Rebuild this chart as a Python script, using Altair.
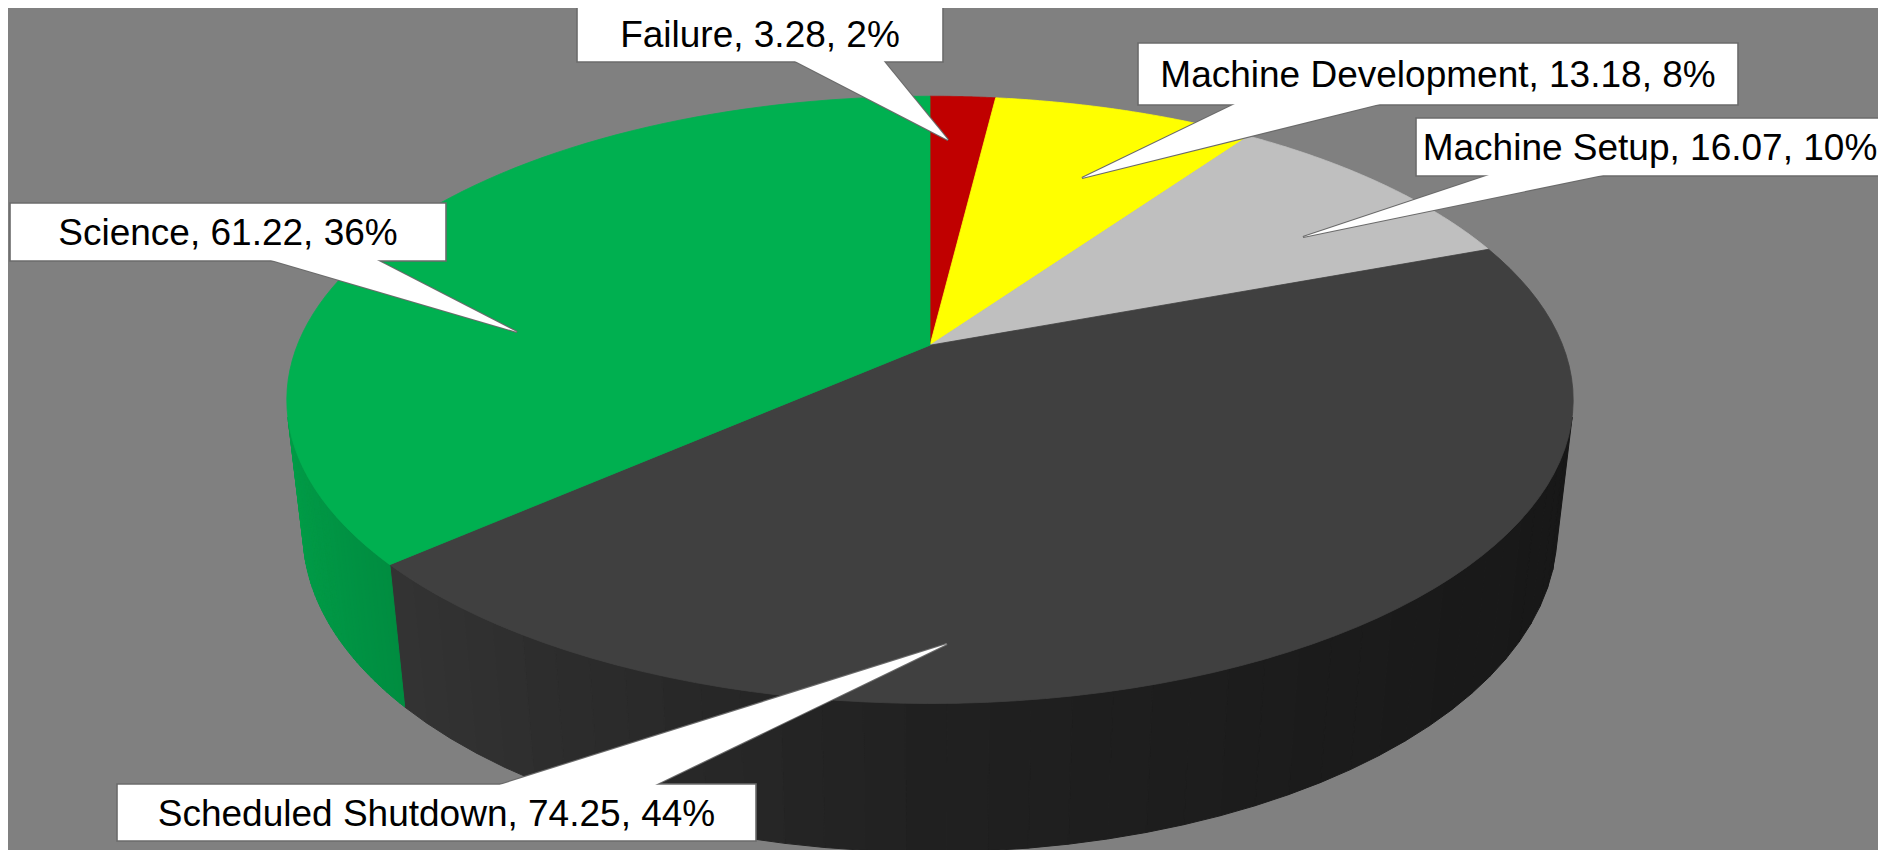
import math
import altair as alt
import pandas as pd

# ---------------- data ----------------
categories = ["Failure", "Machine Development", "Machine Setup", "Scheduled Shutdown", "Science"]
hours = [3.28, 13.18, 16.07, 74.25, 61.22]

# ---------------- styles ----------------
slice_colors = ["#C00000", "#FFFF00", "#BFBFBF", "#404040", "#00B050"]
background = "#808080"
border_color = "#6b6b6b"

# ---------------- layout (page pixels) ----------------
box_left = [577, 1138, 1416, 117, 10]
box_right = [943, 1738, 1884, 756, 446]
box_top = [5, 43, 118, 784, 203]
box_bottom = [62, 105, 176, 841, 261]
wedge_base_a = [791, 1239, 1495, 493, 264]
wedge_base_b = [882, 1388, 1613, 651, 373]
wedge_side = ["bottom", "bottom", "bottom", "top", "bottom"]
tip_x = [948, 1082, 1303, 947, 517]
tip_y = [140, 178, 237, 644, 332]

# 3D projection parameters
CX, CY = 930.0, 345.2      # projected pie centre (top face)
A, B = 632.7, 293.8        # horizontal / depth radii
K = 0.18                   # perspective along depth
M = 0.025                  # perspective along height
E = 134.5                  # thickness
N = 72                     # arc points per slice
NS = 40                    # wall segments per slice

# silhouette angles of the cylinder wall
h_c = -1.0 / (K * E / B + M)
v_c = E * h_c / B
theta0 = math.acos(1.0 / v_c)
S0, S1 = theta0, 2 * math.pi - theta0

W, H = 1870, 842
xs = alt.Scale(domain=[8, 8 + W], nice=False, zero=False)
ys = alt.Scale(domain=[8, 8 + H], reverse=True, nice=False, zero=False)


def hex_rgb(h):
    h = h.lstrip("#")
    return tuple(int(h[i:i + 2], 16) for i in (0, 2, 4))


pie_df = pd.DataFrame({
    "category": categories,
    "hours": hours,
    "idx": list(range(len(categories))),
    "color": slice_colors,
    "r": [hex_rgb(c)[0] for c in slice_colors],
    "g": [hex_rgb(c)[1] for c in slice_colors],
    "b": [hex_rgb(c)[2] for c in slice_colors],
})


def base_angles():
    return (
        alt.Chart(pie_df)
        .transform_window(cum="sum(hours)", sort=[alt.SortField("idx", order="ascending")], frame=[None, 0])
        .transform_joinaggregate(total="sum(hours)")
        .transform_calculate(a0="2*PI*(datum.cum - datum.hours)/datum.total")
        .transform_calculate(a1="2*PI*datum.cum/datum.total")
    )


# ---------- side walls ----------
wall = (
    base_angles()
    .transform_calculate(lo=f"max(datum.a0, {S0})")
    .transform_calculate(hi=f"min(datum.a1, {S1})")
    .transform_filter("datum.hi > datum.lo")
    .transform_calculate(segs=f"sequence(0, {NS})")
    .transform_flatten(["segs"], as_=["j"])
    .transform_calculate(corners="sequence(0, 4)")
    .transform_flatten(["corners"], as_=["q"])
    .transform_calculate(b0=f"datum.lo + (datum.hi - datum.lo)*datum.j/{NS}")
    .transform_calculate(b1=f"datum.lo + (datum.hi - datum.lo)*(datum.j + 1)/{NS}")
    .transform_calculate(ang="(datum.q == 0 || datum.q == 3) ? datum.b0 : datum.b1")
    .transform_calculate(hh="datum.q >= 2 ? 1 : 0")
    .transform_calculate(um="sin((datum.b0 + datum.b1)/2)")
    .transform_calculate(uu="sin(datum.ang)")
    .transform_calculate(vv="cos(datum.ang)")
    .transform_calculate(ww=f"1 + {K}*datum.vv + {M}*datum.hh")
    .transform_calculate(px=f"{CX} + {A}*datum.uu/datum.ww")
    .transform_calculate(py=f"{CY} + (-{B}*datum.vv + {E}*datum.hh)/datum.ww")
    .transform_calculate(ff="datum.um < 0 ? 0.5 - 0.4*datum.um : 0.5 - 0.14*datum.um")
    .transform_calculate(shade="'rgb(' + round(datum.r*datum.ff) + ',' + round(datum.g*datum.ff) + ',' + round(datum.b*datum.ff) + ')'")
    .transform_calculate(seg="datum.category + '-' + datum.j")
    .mark_line(filled=True, interpolate="linear-closed", strokeWidth=1)
    .encode(
        x=alt.X("px:Q", scale=xs, axis=None),
        y=alt.Y("py:Q", scale=ys, axis=None),
        color=alt.Color("shade:N", scale=None, legend=None),
        stroke=alt.Stroke("shade:N", scale=None, legend=None),
        detail="seg:N",
        order="q:Q",
    )
)

# ---------- top faces ----------
top = (
    base_angles()
    .transform_calculate(pts=f"sequence(0, {N + 2})")
    .transform_flatten(["pts"], as_=["i"])
    .transform_calculate(ang=f"datum.a0 + (datum.a1 - datum.a0)*(datum.i - 1)/{N}")
    .transform_calculate(uu="datum.i == 0 ? 0 : sin(datum.ang)")
    .transform_calculate(vv="datum.i == 0 ? 0 : cos(datum.ang)")
    .transform_calculate(px=f"{CX} + {A}*datum.uu/(1 + {K}*datum.vv)")
    .transform_calculate(py=f"{CY} - {B}*datum.vv/(1 + {K}*datum.vv)")
    .mark_line(filled=True, interpolate="linear-closed", strokeWidth=0.8)
    .encode(
        x=alt.X("px:Q", scale=xs, axis=None),
        y=alt.Y("py:Q", scale=ys, axis=None),
        color=alt.Color("color:N", scale=None, legend=None),
        stroke=alt.Stroke("color:N", scale=None, legend=None),
        detail="category:N",
        order="i:Q",
    )
)

# ---------- callouts ----------
total = sum(hours)
label_text = [f"{c}, {v:.2f}, {round(100 * v / total)}%" for c, v in zip(categories, hours)]

box_df = pd.DataFrame({
    "category": categories,
    "left": box_left, "right": box_right, "top": box_top, "bottom": box_bottom,
    "label": label_text,
    "cx": [(l + r) / 2 for l, r in zip(box_left, box_right)],
    "ty": [(t + b) / 2 + 13 for t, b in zip(box_top, box_bottom)],
})

wedge_rows = []
for c, ba, bb, side, t, b, tx, ty in zip(categories, wedge_base_a, wedge_base_b, wedge_side,
                                          box_top, box_bottom, tip_x, tip_y):
    by = b - 3 if side == "bottom" else t + 3
    wedge_rows.append({"category": c, "k": 0, "wx": ba, "wy": by})
    wedge_rows.append({"category": c, "k": 1, "wx": bb, "wy": by})
    wedge_rows.append({"category": c, "k": 2, "wx": tx, "wy": ty})
wedge_df = pd.DataFrame(wedge_rows)

wedge_enc = dict(
    x=alt.X("wx:Q", scale=xs, axis=None),
    y=alt.Y("wy:Q", scale=ys, axis=None),
    detail="category:N",
    order="k:Q",
)

wedge_outline = alt.Chart(wedge_df).mark_line(
    filled=True, interpolate="linear-closed", fill="white", stroke=border_color, strokeWidth=2.2
).encode(**wedge_enc)

boxes = alt.Chart(box_df).mark_rect(fill="white", stroke=border_color, strokeWidth=1.6).encode(
    x=alt.X("left:Q", scale=xs, axis=None),
    x2="right:Q",
    y=alt.Y("top:Q", scale=ys, axis=None),
    y2="bottom:Q",
)

wedge_cover = alt.Chart(wedge_df).mark_line(
    filled=True, interpolate="linear-closed", fill="white", strokeWidth=0, strokeOpacity=0
).encode(**wedge_enc)

texts = alt.Chart(box_df).mark_text(
    font="Liberation Sans", fontSize=37, color="black", align="center", baseline="alphabetic"
).encode(
    x=alt.X("cx:Q", scale=xs, axis=None),
    y=alt.Y("ty:Q", scale=ys, axis=None),
    text="label:N",
)

chart = alt.layer(wall, top, wedge_outline, boxes, wedge_cover, texts).properties(
    width=W, height=H, background=background, padding=0,
    autosize=alt.AutoSizeParams(type="none"),
).configure_view(stroke=None)

chart.save("out.html", embed_options={"renderer": "svg", "actions": False})
